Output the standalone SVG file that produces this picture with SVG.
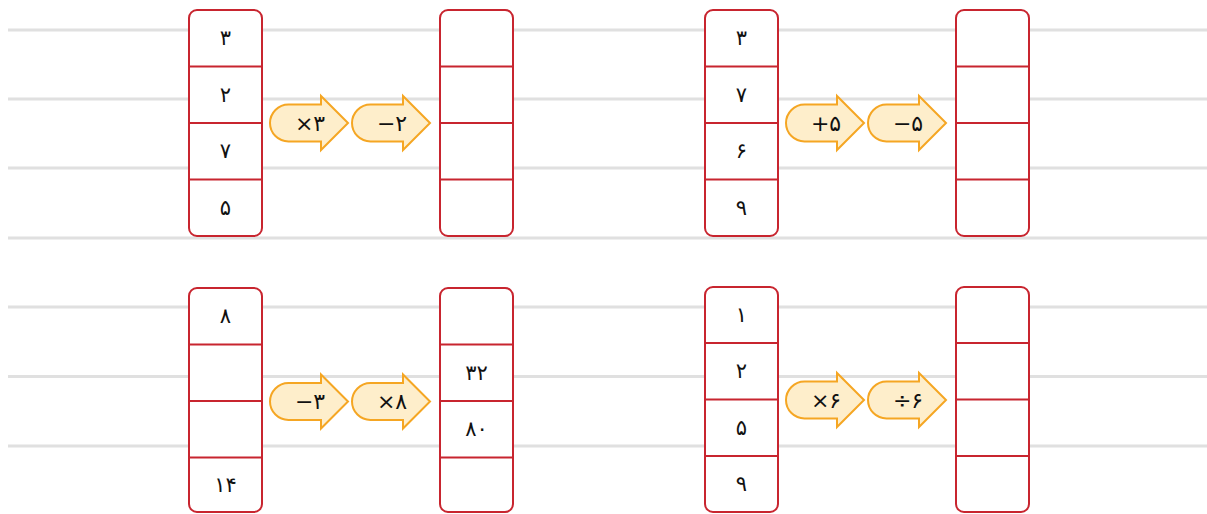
<svg xmlns="http://www.w3.org/2000/svg" width="1207" height="514" viewBox="0 0 1207 514">
<style>
.rule{stroke:#e0e0e0;stroke-width:3}
.col{fill:#fff;stroke:#c8252f;stroke-width:2}
.div{stroke:#c8252f;stroke-width:2}
.arr{fill:#feeecb;stroke:#f5a623;stroke-width:2;stroke-linejoin:miter}
.d{font-family:"DejaVu Sans",sans-serif;font-size:21px;fill:#111;text-anchor:middle}
.o{font-family:"DejaVu Sans",sans-serif;font-size:22px;fill:#111;text-anchor:middle}
</style>
<defs>
<path id="arrow" class="arr" d="M18.5,-18.5 H51 V-27 L78,0 L51,27 V18.5 H18.5 A18.5,18.5 0 0 1 18.5,-18.5 Z"/>
</defs>
<rect width="1207" height="514" fill="#fff"/>
<g id="rules">
<line class="rule" x1="8" y1="30" x2="1207" y2="30"/>
<line class="rule" x1="8" y1="99" x2="1207" y2="99"/>
<line class="rule" x1="8" y1="168" x2="1207" y2="168"/>
<line class="rule" x1="8" y1="238" x2="1207" y2="238"/>
<line class="rule" x1="8" y1="307" x2="1207" y2="307"/>
<line class="rule" x1="8" y1="376.5" x2="1207" y2="376.5"/>
<line class="rule" x1="8" y1="446" x2="1207" y2="446"/>
</g>
<g id="tl-in" transform="translate(189,10)">
<rect class="col" x="0" y="0" width="73" height="226" rx="8"/>
<line class="div" x1="0" y1="56.5" x2="73" y2="56.5"/>
<line class="div" x1="0" y1="113" x2="73" y2="113"/>
<line class="div" x1="0" y1="169.5" x2="73" y2="169.5"/>
<text class="d" x="36.5" y="35">۳</text>
<text class="d" x="36.5" y="91.5">۲</text>
<text class="d" x="36.5" y="148">۷</text>
<text class="d" x="36.5" y="204.5">۵</text>
</g>
<g id="tl-out" transform="translate(440,10)">
<rect class="col" x="0" y="0" width="73" height="226" rx="8"/>
<line class="div" x1="0" y1="56.5" x2="73" y2="56.5"/>
<line class="div" x1="0" y1="113" x2="73" y2="113"/>
<line class="div" x1="0" y1="169.5" x2="73" y2="169.5"/>
</g>
<g id="tr-in" transform="translate(705,10)">
<rect class="col" x="0" y="0" width="73" height="226" rx="8"/>
<line class="div" x1="0" y1="56.5" x2="73" y2="56.5"/>
<line class="div" x1="0" y1="113" x2="73" y2="113"/>
<line class="div" x1="0" y1="169.5" x2="73" y2="169.5"/>
<text class="d" x="36.5" y="35">۳</text>
<text class="d" x="36.5" y="91.5">۷</text>
<text class="d" x="36.5" y="148">۶</text>
<text class="d" x="36.5" y="204.5">۹</text>
</g>
<g id="tr-out" transform="translate(956,10)">
<rect class="col" x="0" y="0" width="73" height="226" rx="8"/>
<line class="div" x1="0" y1="56.5" x2="73" y2="56.5"/>
<line class="div" x1="0" y1="113" x2="73" y2="113"/>
<line class="div" x1="0" y1="169.5" x2="73" y2="169.5"/>
</g>
<g id="bl-in" transform="translate(189,288)">
<rect class="col" x="0" y="0" width="73" height="224" rx="8"/>
<line class="div" x1="0" y1="56.5" x2="73" y2="56.5"/>
<line class="div" x1="0" y1="113" x2="73" y2="113"/>
<line class="div" x1="0" y1="169.5" x2="73" y2="169.5"/>
<text class="d" x="36.5" y="35">۸</text>
<text class="d" x="36.5" y="204">۱۴</text>
</g>
<g id="bl-out" transform="translate(440,288)">
<rect class="col" x="0" y="0" width="73" height="224" rx="8"/>
<line class="div" x1="0" y1="56.5" x2="73" y2="56.5"/>
<line class="div" x1="0" y1="113" x2="73" y2="113"/>
<line class="div" x1="0" y1="169.5" x2="73" y2="169.5"/>
<text class="d" x="36.5" y="91.5">۳۲</text>
<text class="d" x="36.5" y="148">۸۰</text>
</g>
<g id="br-in" transform="translate(705,287)">
<rect class="col" x="0" y="0" width="73" height="225" rx="8"/>
<line class="div" x1="0" y1="56" x2="73" y2="56"/>
<line class="div" x1="0" y1="112.5" x2="73" y2="112.5"/>
<line class="div" x1="0" y1="169" x2="73" y2="169"/>
<text class="d" x="36.5" y="35">۱</text>
<text class="d" x="36.5" y="91">۲</text>
<text class="d" x="36.5" y="147.5">۵</text>
<text class="d" x="36.5" y="204">۹</text>
</g>
<g id="br-out" transform="translate(956,287)">
<rect class="col" x="0" y="0" width="73" height="225" rx="8"/>
<line class="div" x1="0" y1="56" x2="73" y2="56"/>
<line class="div" x1="0" y1="112.5" x2="73" y2="112.5"/>
<line class="div" x1="0" y1="169" x2="73" y2="169"/>
</g>
<g id="connectors">
<g id="op-tl1" transform="translate(270,123)"><use href="#arrow"/><text class="o" x="40" y="7.5">×۳</text></g>
<g id="op-tl2" transform="translate(352,123)"><use href="#arrow"/><text class="o" x="40" y="7.5">−۲</text></g>
<g id="op-tr1" transform="translate(786,123)"><use href="#arrow"/><text class="o" x="40" y="7.5">+۵</text></g>
<g id="op-tr2" transform="translate(868,123)"><use href="#arrow"/><text class="o" x="40" y="7.5">−۵</text></g>
<g id="op-bl1" transform="translate(270,401.5)"><use href="#arrow"/><text class="o" x="40" y="7.5">−۳</text></g>
<g id="op-bl2" transform="translate(352,401.5)"><use href="#arrow"/><text class="o" x="40" y="7.5">×۸</text></g>
<g id="op-br1" transform="translate(786,400)"><use href="#arrow"/><text class="o" x="40" y="7.5">×۶</text></g>
<g id="op-br2" transform="translate(868,400)"><use href="#arrow"/><text class="o" x="40" y="7.5">÷۶</text></g>
</g>
</svg>
